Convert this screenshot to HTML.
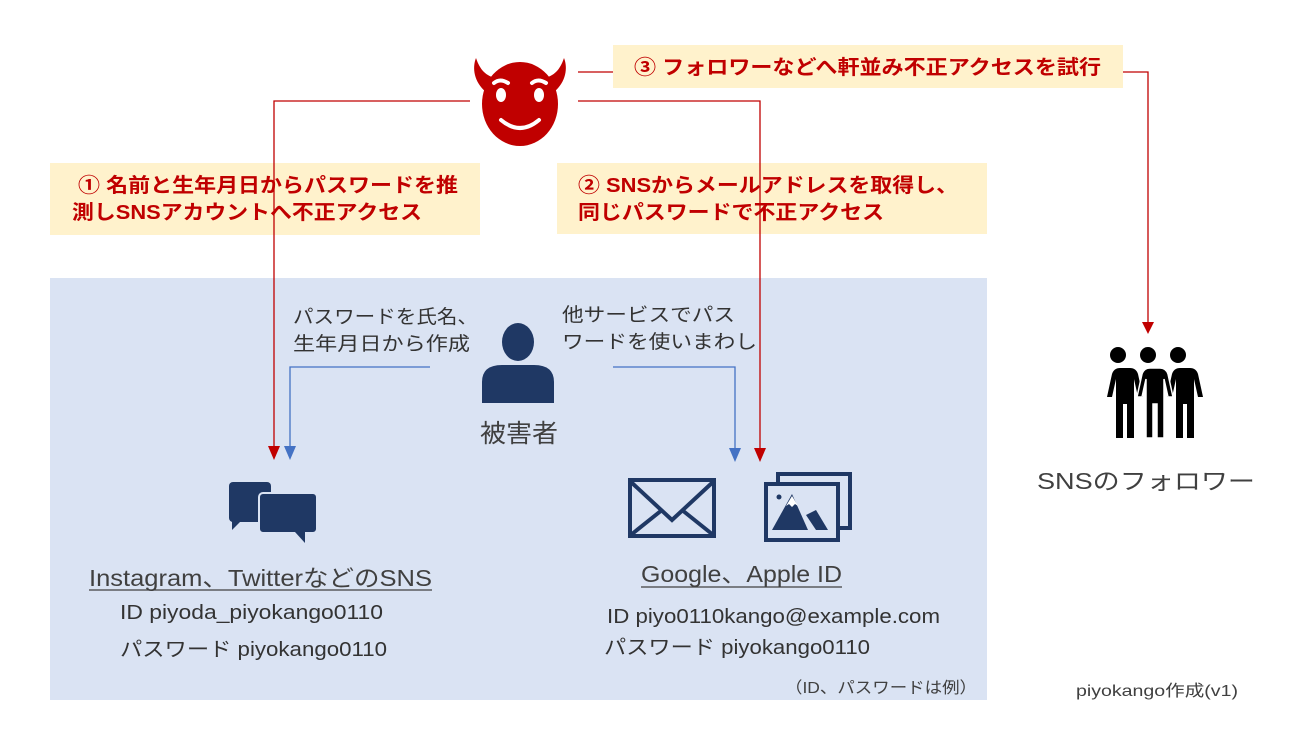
<!DOCTYPE html>
<html><head><meta charset="utf-8"><style>
html,body{margin:0;padding:0;background:#fff;width:1299px;height:740px;overflow:hidden}
svg{display:block}
text{font-family:"Liberation Sans","Noto Sans CJK JP",sans-serif}
.r{fill:#c00000;font-weight:bold;font-size:20px}
.d{fill:#333;font-size:19px}
</style></head><body>
<svg width="1299" height="740" viewBox="0 0 1299 740" xmlns="http://www.w3.org/2000/svg">
<rect x="50" y="278" width="937" height="422" fill="#dae3f3"/>
<rect x="50" y="163" width="430" height="72" fill="#fff2cc"/>
<rect x="557" y="163" width="430" height="71" fill="#fff2cc"/>
<rect x="613" y="45" width="510" height="43" fill="#fff2cc"/>
<g stroke="#c00000" stroke-width="1.3" fill="none">
<path d="M578,72 H613"/>
<path d="M1123,72 H1148 V328"/>
<path d="M470,101 H274 V450"/>
<path d="M578,101 H760 V452"/>
</g>
<path d="M1142,322 h12 l-6,12z" fill="#c00000"/>
<path d="M268,446 h12 l-6,14z" fill="#c00000"/>
<path d="M754,448 h12 l-6,14z" fill="#c00000"/>
<g stroke="#4472c4" stroke-width="1.3" fill="none">
<path d="M430,367 H290 V448"/>
<path d="M613,367 H735 V450"/>
</g>
<path d="M284,446 h12 l-6,14z" fill="#4472c4"/>
<path d="M729,448 h12 l-6,14z" fill="#4472c4"/>
<text class="r" x="634" y="74" textLength="467" lengthAdjust="spacingAndGlyphs">③ フォロワーなどへ軒並み不正アクセスを試行</text>
<text class="r" x="78" y="192" textLength="380" lengthAdjust="spacingAndGlyphs">① 名前と生年月日からパスワードを推</text>
<text class="r" x="72" y="219" textLength="350" lengthAdjust="spacingAndGlyphs">測しSNSアカウントへ不正アクセス</text>
<text class="r" x="578" y="192" textLength="380" lengthAdjust="spacingAndGlyphs">② SNSからメールアドレスを取得し、</text>
<text class="r" x="578" y="219" textLength="306" lengthAdjust="spacingAndGlyphs">同じパスワードで不正アクセス</text>
<g fill="#c00000">
<path d="M476,58 C472,68 474,82 486,92 L496,78 C486,76 480,70 476,58z"/>
<path d="M564,58 C568,68 566,82 554,92 L544,78 C554,76 560,70 564,58z"/>
<ellipse cx="520" cy="104" rx="38" ry="42"/>
</g>
<g fill="#fff"><ellipse cx="501" cy="95" rx="5" ry="7"/><ellipse cx="539" cy="95" rx="5" ry="7"/></g>
<g stroke="#fff" stroke-width="4" fill="none" stroke-linecap="round">
<path d="M494,83 q6,-5 14,0"/><path d="M532,83 q6,-5 14,0"/>
<path d="M501,120 q19,16 38,0"/></g>
<g fill="#1f3864">
<ellipse cx="518" cy="342" rx="16" ry="19"/>
<path d="M482,403 V382 q0,-17 20,-17 h32 q20,0 20,17 V403z"/>
</g>
<text x="480" y="442" font-size="25" fill="#404040" textLength="78" lengthAdjust="spacingAndGlyphs">被害者</text>
<text class="d" x="293" y="323" textLength="185" lengthAdjust="spacingAndGlyphs">パスワードを氏名、</text>
<text class="d" x="293" y="350" textLength="177" lengthAdjust="spacingAndGlyphs">生年月日から作成</text>
<text class="d" x="562" y="321" textLength="173" lengthAdjust="spacingAndGlyphs">他サービスでパス</text>
<text class="d" x="562" y="348" textLength="195" lengthAdjust="spacingAndGlyphs">ワードを使いまわし</text>
<g fill="#1f3864">
<rect x="229" y="482" width="42" height="40" rx="4"/>
<path d="M232,520 v10 l10,-10z"/>
<rect x="259" y="493" width="58" height="40" rx="4" stroke="#dae3f3" stroke-width="2"/>
<path d="M295,532 l10,11 v-11z"/>
</g>
<g stroke="#1f3864" fill="none" stroke-width="4">
<rect x="630" y="480" width="84" height="56"/>
<path d="M631,482 L672,520 L713,482 M632,534 L662,510 M712,534 L682,510"/>
</g>
<g stroke="#1f3864" fill="none" stroke-width="4">
<path d="M778,484 V474 H850 V528 H838"/>
<rect x="766" y="484" width="72" height="56"/>
</g>
<g fill="#1f3864">
<circle cx="779" cy="497" r="2.5"/>
<path d="M772,530 L792,494 L808,530z"/>
<path d="M806,515 L816,510 L828,530 L816,530z"/>
</g>
<path d="M786,506 l6,-10 l6,10 l-3,-2 l-3,3 l-3,-3z" fill="#fff"/>
<text x="89" y="586" font-size="23" fill="#404040" textLength="343" lengthAdjust="spacingAndGlyphs">Instagram、TwitterなどのSNS</text>
<line x1="89" y1="590" x2="432" y2="590" stroke="#404040" stroke-width="1.2"/>
<text x="120" y="619" font-size="20" fill="#333" textLength="263" lengthAdjust="spacingAndGlyphs">ID piyoda_piyokango0110</text>
<text x="120" y="656" font-size="20" fill="#333" textLength="267" lengthAdjust="spacingAndGlyphs">パスワード piyokango0110</text>
<text x="641" y="582" font-size="23" fill="#404040" textLength="201" lengthAdjust="spacingAndGlyphs">Google、Apple ID</text>
<line x1="641" y1="587" x2="842" y2="587" stroke="#404040" stroke-width="1.2"/>
<text x="607" y="623" font-size="20" fill="#333" textLength="333" lengthAdjust="spacingAndGlyphs">ID piyo0110kango@example.com</text>
<text x="604" y="654" font-size="20" fill="#333" textLength="266" lengthAdjust="spacingAndGlyphs">パスワード piyokango0110</text>
<text x="785" y="693" font-size="16" fill="#404040" textLength="192" lengthAdjust="spacingAndGlyphs">（ID、パスワードは例）</text>
<g fill="#000">
<circle cx="1118" cy="355" r="8"/><circle cx="1148" cy="355" r="8"/><circle cx="1178" cy="355" r="8"/>
<path d="M1106,368 h24 q6,0 8,6 l5,23 h-5 l-4,-18 v59 h-7 v-34 h-4 v34 h-7 v-59 l-4,18 h-5 l5,-23 q2,-6 8,-6z"/>
<path d="M1166,368 h24 q6,0 8,6 l5,23 h-5 l-4,-18 v59 h-7 v-34 h-4 v34 h-7 v-59 l-4,18 h-5 l5,-23 q2,-6 8,-6z"/>
<path d="M1136,368 h24 q6,0 8,6 l5,23 h-5 l-4,-18 v59 h-7 v-34 h-4 v34 h-7 v-59 l-4,18 h-5 l5,-23 q2,-6 8,-6z" stroke="#fff" stroke-width="1.5"/>
</g>
<text x="1037" y="489" font-size="23" fill="#404040" textLength="218" lengthAdjust="spacingAndGlyphs">SNSのフォロワー</text>
<text x="1076" y="696" font-size="16" fill="#404040" textLength="162" lengthAdjust="spacingAndGlyphs">piyokango作成(v1)</text>
</svg>
</body></html>
